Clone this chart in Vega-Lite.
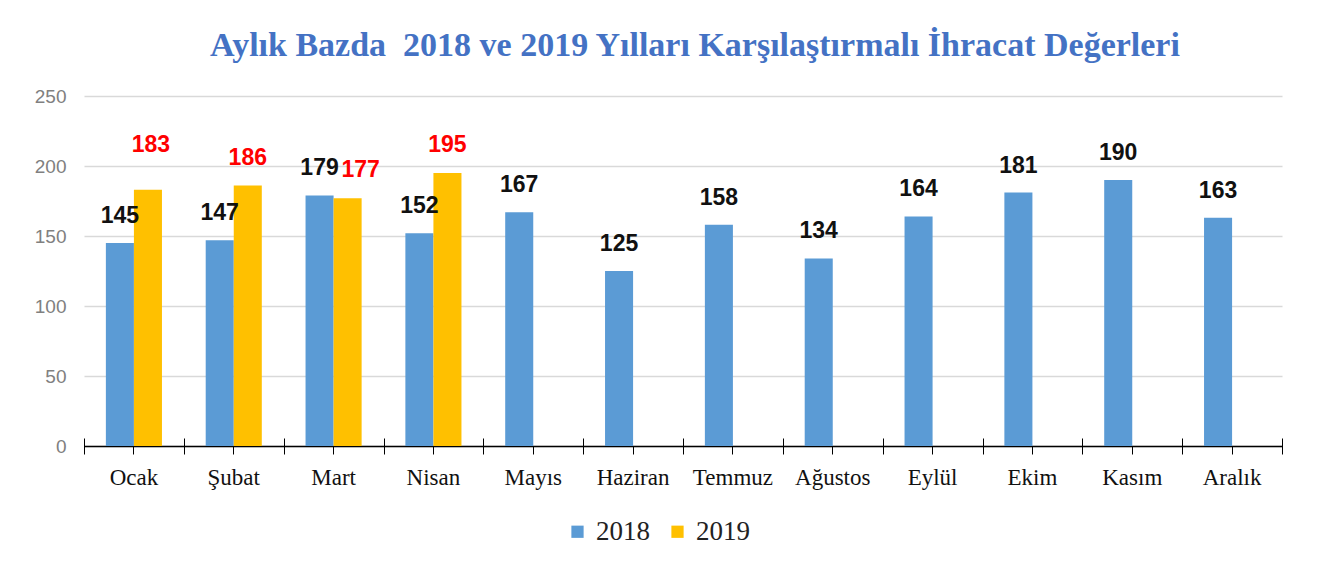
{
  "$schema": "https://vega.github.io/schema/vega-lite/v6.json",
  "width": 1198,
  "height": 350,
  "autosize": {"type": "none"},
  "padding": {"left": 84, "top": 96, "right": 45, "bottom": 120},
  "background": "white",
  "title": {
    "text": "Aylık Bazda\u00a0 2018 ve 2019 Yılları Karşılaştırmalı İhracat Değerleri",
    "font": "Liberation Serif",
    "fontSize": 34,
    "fontWeight": "bold",
    "color": "#4472C4",
    "anchor": "middle",
    "dx": 12,
    "offset": 24
  },
  "config": {"view": {"stroke": null}},
  "data": {
    "values": [
      {"month": "Ocak", "year": "2018", "value": 145},
      {"month": "Şubat", "year": "2018", "value": 147},
      {"month": "Mart", "year": "2018", "value": 179},
      {"month": "Nisan", "year": "2018", "value": 152},
      {"month": "Mayıs", "year": "2018", "value": 167},
      {"month": "Haziran", "year": "2018", "value": 125},
      {"month": "Temmuz", "year": "2018", "value": 158},
      {"month": "Ağustos", "year": "2018", "value": 134},
      {"month": "Eylül", "year": "2018", "value": 164},
      {"month": "Ekim", "year": "2018", "value": 181},
      {"month": "Kasım", "year": "2018", "value": 190},
      {"month": "Aralık", "year": "2018", "value": 163},
      {"month": "Ocak", "year": "2019", "value": 183},
      {"month": "Şubat", "year": "2019", "value": 186},
      {"month": "Mart", "year": "2019", "value": 177},
      {"month": "Nisan", "year": "2019", "value": 195}
    ]
  },
  "resolve": {"axis": {"x": "independent"}},
  "layer": [
    {
      "encoding": {
        "x": {
          "field": "month",
          "type": "nominal",
          "sort": ["Ocak", "Şubat", "Mart", "Nisan", "Mayıs", "Haziran", "Temmuz", "Ağustos", "Eylül", "Ekim", "Kasım", "Aralık"],
          "scale": {"paddingInner": 0, "paddingOuter": 0},
          "axis": {
            "orient": "bottom",
            "title": null,
            "labelAngle": 0,
            "labelFont": "Liberation Serif",
            "labelFontSize": 23,
            "labelColor": "#111111",
            "labelPadding": 12,
            "domainColor": "#000000",
            "domainWidth": 1.5,
            "tickColor": "#000000",
            "tickSize": 8,
            "grid": false
          }
        },
        "xOffset": {"field": "year", "type": "nominal", "scale": {"domain": ["2018", "2019"], "paddingInner": 0, "paddingOuter": 0.78}}
      },
      "layer": [
        {
          "mark": {"type": "bar"},
          "encoding": {
            "y": {
              "field": "value",
              "type": "quantitative",
              "scale": {"domain": [0, 250], "nice": false},
              "axis": {
                "title": null,
                "values": [0, 50, 100, 150, 200, 250],
                "domain": false,
                "ticks": false,
                "gridColor": "#d9d9d9",
                "gridWidth": 1.5,
                "labelFont": "Liberation Sans",
                "labelFontSize": 19,
                "labelColor": "#808080",
                "labelPadding": 18
              }
            },
            "color": {
              "field": "year",
              "type": "nominal",
              "scale": {"domain": ["2018", "2019"], "range": ["#5B9BD5", "#FFC000"]},
              "legend": {
                "title": null,
                "orient": "none",
                "direction": "horizontal",
                "legendX": 480,
                "legendY": 422,
                "symbolType": "square",
                "symbolSize": 150,
                "symbolStrokeWidth": 0,
                "labelFont": "Liberation Serif",
                "labelFontSize": 27,
                "labelColor": "#222222",
                "labelOffset": 5,
                "columnPadding": 14
              }
            }
          }
        },
        {
          "transform": [{"filter": "datum.year === '2018'"}],
          "mark": {"type": "text", "font": "Liberation Sans", "fontSize": 23, "fontWeight": "bold", "color": "#111111", "baseline": "middle", "dy": -27},
          "encoding": {
            "y": {"field": "value", "type": "quantitative"},
            "text": {"field": "value", "type": "quantitative"}
          }
        },
        {
          "transform": [{"filter": "datum.year === '2019' && datum.month !== 'Ocak' && datum.month !== 'Mart'"}],
          "mark": {"type": "text", "font": "Liberation Sans", "fontSize": 23, "fontWeight": "bold", "color": "#FF0000", "baseline": "middle", "dy": -28},
          "encoding": {
            "y": {"field": "value", "type": "quantitative"},
            "text": {"field": "value", "type": "quantitative"}
          }
        },
        {
          "transform": [{"filter": "datum.year === '2019' && datum.month === 'Mart'"}],
          "mark": {"type": "text", "font": "Liberation Sans", "fontSize": 23, "fontWeight": "bold", "color": "#FF0000", "baseline": "middle", "dy": -28, "dx": 13},
          "encoding": {
            "y": {"field": "value", "type": "quantitative"},
            "text": {"field": "value", "type": "quantitative"}
          }
        },
        {
          "transform": [{"filter": "datum.year === '2019' && datum.month === 'Ocak'"}],
          "mark": {"type": "text", "font": "Liberation Sans", "fontSize": 23, "fontWeight": "bold", "color": "#FF0000", "baseline": "middle", "dy": -45, "dx": 3},
          "encoding": {
            "y": {"field": "value", "type": "quantitative"},
            "text": {"field": "value", "type": "quantitative"}
          }
        }
      ]
    },
    {
      "transform": [{"filter": "datum.year === '2018'"}],
      "mark": {"type": "point", "opacity": 0},
      "encoding": {
        "x": {
          "field": "month",
          "type": "nominal",
          "sort": ["Ocak", "Şubat", "Mart", "Nisan", "Mayıs", "Haziran", "Temmuz", "Ağustos", "Eylül", "Ekim", "Kasım", "Aralık"],
          "axis": {
            "orient": "bottom",
            "offset": -8,
            "title": null,
            "labels": false,
            "domain": false,
            "grid": false,
            "tickBand": "extent",
            "tickColor": "#000000",
            "tickSize": 16
          }
        }
      }
    }
  ]
}
